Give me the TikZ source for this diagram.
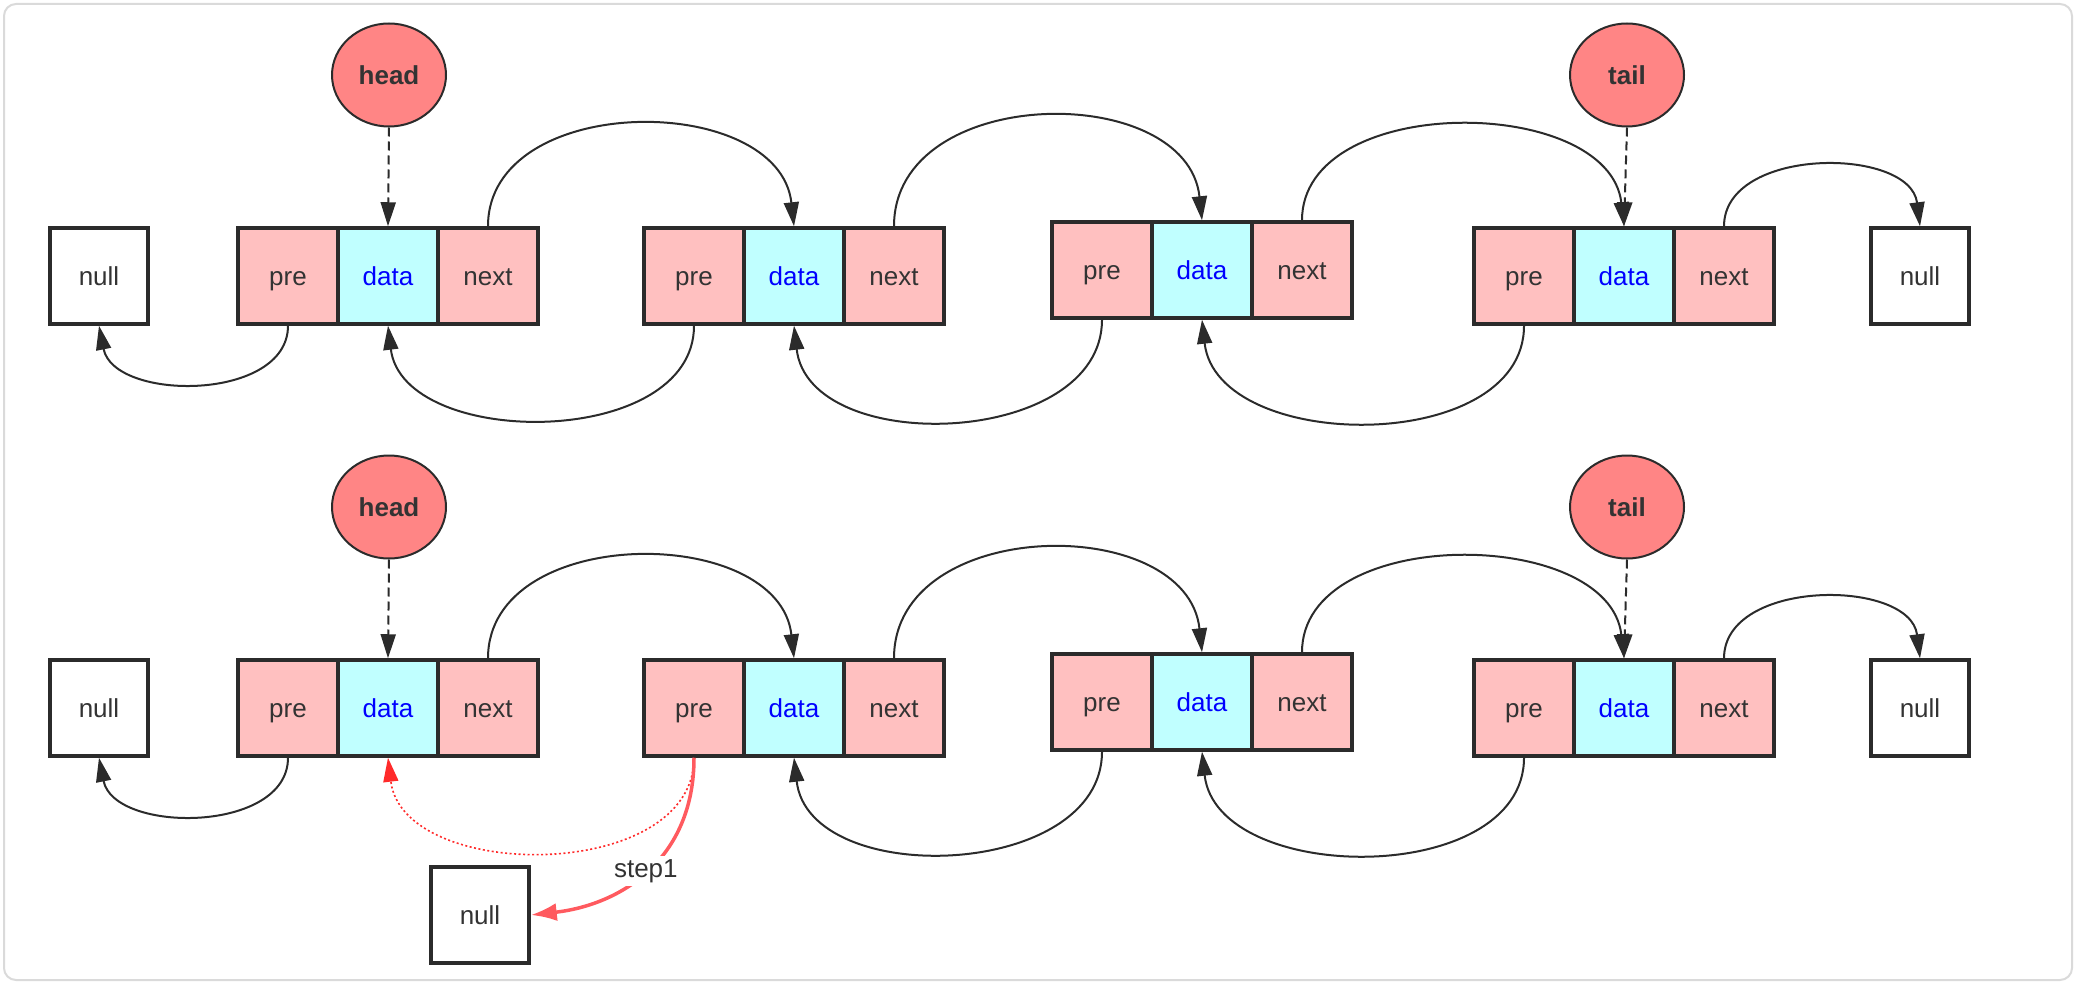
\documentclass[tikz,border=0pt]{standalone}
\usepackage{fontspec}
\setmainfont{Liberation Sans}
\usetikzlibrary{arrows.meta,shapes.geometric}
\definecolor{pinkc}{HTML}{FFC0C0}
\definecolor{cyanc}{HTML}{C0FFFF}
\definecolor{headc}{HTML}{FF8585}
\definecolor{linec}{HTML}{2B2B2B}
\definecolor{txtc}{HTML}{333333}
\definecolor{redd}{HTML}{FF2A2A}
\definecolor{reds}{HTML}{FF5A5F}
\definecolor{framec}{HTML}{DADADA}
\newcommand\lnode[3]{%
  \node[ptr] (#1p) at (#2-100,#3) {pre};
  \node[dat] (#1d) at (#2,#3) {data};
  \node[ptr] (#1n) at (#2+100,#3) {next};}
\begin{document}
\begin{tikzpicture}[x=1pt,y=-1pt,
  cell/.style={draw=linec,line width=3.5pt,minimum width=100pt,minimum height=96pt,inner sep=0pt,text height=21pt,text depth=2pt,font=\fontsize{26}{30}\selectfont,text=txtc},
  ptr/.style={cell,fill=pinkc},
  dat/.style={cell,fill=cyanc,text=blue},
  nul/.style={cell,fill=white,minimum width=98pt},
  ref/.style={ellipse,draw=linec,line width=2pt,fill=headc,minimum width=114pt,minimum height=103pt,inner sep=0pt,text height=21pt,text depth=2pt,font=\fontsize{26}{30}\selectfont\bfseries,text=txtc},
  arr/.style={draw=linec,line width=2pt,-{Triangle[length=24pt,width=15pt]}},
  darr/.style={arr,dash pattern=on 9pt off 5pt},
  redarr/.style={draw=redd,line width=1.6pt,dash pattern=on 2pt off 2.5pt,-{Triangle[length=24pt,width=15pt]}},
  steparr/.style={draw=reds,line width=3.5pt,-{Latex[length=26pt,width=18pt]}},
  lbl/.style={fill=white,inner sep=3pt,font=\fontsize{26}{30}\selectfont,text=txtc}]
\useasboundingbox (0,0) rectangle (2076,984);
\draw[framec,line width=2pt,rounded corners=12pt] (4,4) rectangle (2072,980);

% ---------- top row ----------
\lnode{a1}{388}{276}
\lnode{a2}{794}{276}
\lnode{a3}{1202}{270}
\lnode{a4}{1624}{276}
\node[nul] (aL) at (99,276) {null};
\node[nul] (aR) at (1920,276) {null};
\node[ref] (ahead) at (389,75) {head};
\node[ref] (atail) at (1627,75) {tail};

\draw[darr] (ahead.south) -- (a1d.north);
\draw[darr] (atail.south) -- (a4d.north);

\draw[arr] (a1n.north) .. controls +(0,-135) and +(-15,-135) .. (a2d.north);
\draw[arr] (a2n.north) .. controls +(0,-143) and +(-15,-140) .. (a3d.north);
\draw[arr] (a3n.north) .. controls +(0,-128) and +(-15,-132) .. (a4d.north);
\draw[arr] (a4n.north) .. controls +(0,-80) and +(-10,-80) .. (aR.north);

\draw[arr] (a1p.south) .. controls +(0,76) and +(15,76) .. (aL.south);
\draw[arr] (a2p.south) .. controls +(0,124) and +(15,124) .. (a1d.south);
\draw[arr] (a3p.south) .. controls +(0,128) and +(15,132) .. (a2d.south);
\draw[arr] (a4p.south) .. controls +(0,130) and +(15,134) .. (a3d.south);

% ---------- bottom row ----------
\lnode{b1}{388}{708}
\lnode{b2}{794}{708}
\lnode{b3}{1202}{702}
\lnode{b4}{1624}{708}
\node[nul] (bL) at (99,708) {null};
\node[nul] (bR) at (1920,708) {null};
\node[nul] (bX) at (480,915) {null};
\node[ref] (bhead) at (389,507) {head};
\node[ref] (btail) at (1627,507) {tail};

\draw[darr] (bhead.south) -- (b1d.north);
\draw[darr] (btail.south) -- (b4d.north);

\draw[arr] (b1n.north) .. controls +(0,-135) and +(-15,-135) .. (b2d.north);
\draw[arr] (b2n.north) .. controls +(0,-143) and +(-15,-140) .. (b3d.north);
\draw[arr] (b3n.north) .. controls +(0,-128) and +(-15,-132) .. (b4d.north);
\draw[arr] (b4n.north) .. controls +(0,-80) and +(-10,-80) .. (bR.north);

\draw[arr] (b1p.south) .. controls +(0,76) and +(15,76) .. (bL.south);
\draw[redarr] (b2p.south) .. controls +(0,125) and +(15,125) .. (b1d.south);
\draw[arr] (b3p.south) .. controls +(0,128) and +(15,132) .. (b2d.south);
\draw[arr] (b4p.south) .. controls +(0,130) and +(15,134) .. (b3d.south);

\draw[steparr] (b2p.south) .. controls (694,860) and (620,905) .. (bX.east)
  node[lbl,pos=0.5] {step1};
\end{tikzpicture}
\end{document}
